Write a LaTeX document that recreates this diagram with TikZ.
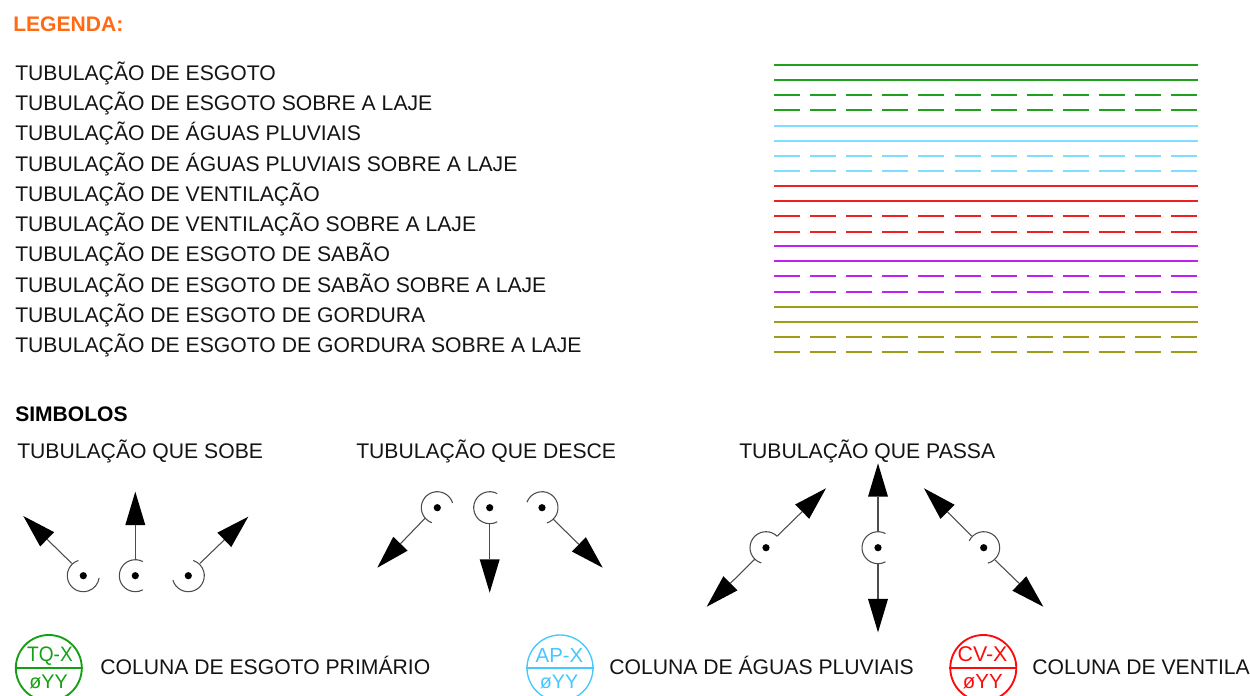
\documentclass[tikz,border=0pt]{standalone}
\usepackage{fontspec}
\setmainfont{Liberation Sans}
\usetikzlibrary{arrows.meta}
\definecolor{cgreen}{HTML}{1FA01F}
\definecolor{ccyan}{HTML}{7FDDFF}
\definecolor{cred}{HTML}{F02020}
\definecolor{cpurple}{HTML}{C020F0}
\definecolor{colive}{HTML}{A09C18}
\definecolor{corange}{HTML}{FF6A13}
\definecolor{capblue}{HTML}{45C8FF}
\definecolor{ctqgreen}{HTML}{14A014}
\definecolor{cvred}{HTML}{FF0A0A}
\tikzset{
  x=.75pt,y=.75pt,
  txt/.style={anchor=base west,inner sep=0pt,font=\fontsize{15.87}{18}\selectfont,text=black!92},
  titlebold/.style={anchor=base west,inner sep=0pt,font=\fontsize{15.8}{18}\selectfont\bfseries},
  solidpipe/.style={line width=1.55pt},
  dashpipe/.style={line width=1.55pt,dash pattern=on 19.5pt off 7.58pt},
  tube/.style={line width=.8pt,draw=black!70,-{Triangle[length=25pt,width=15pt,color=black,fill=black,line width=0pt]}},
  ring/.style={line width=.8pt,draw=black!70},
  pdot/.style={circle,fill=black,inner sep=0pt,minimum size=5.4pt},
  colring/.style={circle,draw,line width=1.4pt,inner sep=0pt,minimum size=49.5pt},
  collab/.style={anchor=base,inner sep=0pt},
}
\newcommand{\pipering}[5]{%
  \node[pdot] (#1) at (#2,#3) {};
  \draw[ring] ([shift={(#4:16)}]#1.center) arc[start angle=#4,end angle=#5,radius=16];
}
\begin{document}
\begin{tikzpicture}
\clip (0,0) rectangle (1250,-696);
\fill[white] (0,0) rectangle (1250,-696);

\node[titlebold,text=corange] (leg) at (13,-31.5) {LEGENDA:};

\foreach \nm/\y/\t in {
  r1/80/{TUBULAÇÃO DE ESGOTO},
  r2/110/{TUBULAÇÃO DE ESGOTO SOBRE A LAJE},
  r3/140.5/{TUBULAÇÃO DE ÁGUAS PLUVIAIS},
  r4/171/{TUBULAÇÃO DE ÁGUAS PLUVIAIS SOBRE A LAJE},
  r5/201/{TUBULAÇÃO DE VENTILAÇÃO},
  r6/231/{TUBULAÇÃO DE VENTILAÇÃO SOBRE A LAJE},
  r7/261.5/{TUBULAÇÃO DE ESGOTO DE SABÃO},
  r8/292/{TUBULAÇÃO DE ESGOTO DE SABÃO SOBRE A LAJE},
  r9/322/{TUBULAÇÃO DE ESGOTO DE GORDURA},
  r10/352/{TUBULAÇÃO DE ESGOTO DE GORDURA SOBRE A LAJE}}
  {\node[txt] (\nm) at (15,-\y) {\t};}

\foreach \c/\ya/\yb/\yc/\yd in {
  cgreen/65/80/95/110,
  ccyan/126/141/156/171,
  cred/186/201/216/232,
  cpurple/246/261/276/292,
  colive/307/322/337/352}{
  \draw[solidpipe,\c] (774,-\ya) -- (1198,-\ya);
  \draw[solidpipe,\c] (774,-\yb) -- (1198,-\yb);
  \draw[dashpipe,\c] (774,-\yc) -- (1198,-\yc);
  \draw[dashpipe,\c] (774,-\yd) -- (1198,-\yd);
}

\node[titlebold,text=black] (simb) at (15,-421) {SIMBOLOS};
\node[txt] (sobe) at (17,-458) {TUBULAÇÃO QUE SOBE};
\node[txt] (desce) at (356,-458) {TUBULAÇÃO QUE DESCE};
\node[txt] (passa) at (739,-458) {TUBULAÇÃO QUE PASSA};

% sobe
\pipering{s1}{83.3}{-575.7}{108}{352}
\pipering{s2}{135.3}{-575.7}{62}{298}
\pipering{s3}{188.3}{-575.7}{-164}{72}
\coordinate (s1a) at (71.7,-563.3); \coordinate (s1b) at (23.3,-516);
\coordinate (s2a) at (135.3,-560); \coordinate (s2b) at (135.3,-491.7);
\coordinate (s3a) at (200,-563.3); \coordinate (s3b) at (248.3,-516.7);
\draw[tube] (s1a) -- (s1b);
\draw[tube] (s2a) -- (s2b);
\draw[tube] (s3a) -- (s3b);

% desce
\pipering{d1}{437.3}{-507.7}{17}{250}
\pipering{d2}{489.7}{-507.7}{62}{298}
\pipering{d3}{542}{-507.7}{-72}{160}
\coordinate (d1a) at (425,-518.3); \coordinate (d1b) at (377.3,-567.7);
\coordinate (d2a) at (489.7,-523.7); \coordinate (d2b) at (489.7,-592.7);
\coordinate (d3a) at (553.3,-519.3); \coordinate (d3b) at (602.7,-567.7);
\draw[tube] (d1a) -- (d1b);
\draw[tube] (d2a) -- (d2b);
\draw[tube] (d3a) -- (d3b);

% passa
\pipering{p1}{766}{-547.7}{45}{253}
\pipering{p2}{878}{-547.7}{62}{298}
\pipering{p3}{983.7}{-547.7}{-75}{155}
\coordinate (p1a) at (777.3,-536); \coordinate (p1b) at (826,-488.3);
\coordinate (p1c) at (755,-559); \coordinate (p1d) at (706.7,-606.7);
\coordinate (p2a) at (878,-532); \coordinate (p2b) at (878,-463.3);
\coordinate (p2c) at (878,-563.5); \coordinate (p2d) at (878,-632.3);
\coordinate (p3a) at (971.7,-536); \coordinate (p3b) at (924,-488.3);
\coordinate (p3c) at (995,-560); \coordinate (p3d) at (1043.3,-606.7);
\draw[tube] (p1a) -- (p1b);
\draw[tube] (p1c) -- (p1d);
\draw[tube] (p2a) -- (p2b);
\draw[tube] (p2c) -- (p2d);
\draw[tube] (p3a) -- (p3b);
\draw[tube] (p3c) -- (p3d);

% colunas
\node[colring,draw=ctqgreen] (tq) at (48.8,-668) {};
\draw[line width=1.4pt,ctqgreen] (tq.west) -- (tq.east);
\node[collab,text=ctqgreen,font=\fontsize{14.3}{16}\selectfont,yscale=1.1] (tqa) at (50,-661.5) {TQ-X};
\node[collab,text=ctqgreen,font=\fontsize{14.8}{16}\selectfont] (tqb) at (48.5,-688.5) {øYY};
\node[txt] (tqt) at (100,-674) {COLUNA DE ESGOTO PRIMÁRIO};

\node[colring,draw=capblue,line width=1pt] (ap) at (560,-668) {};
\draw[line width=1pt,capblue] (ap.west) -- (ap.east);
\node[collab,text=capblue,font=\fontsize{15.3}{16}\selectfont] (apa) at (559.5,-662) {AP-X};
\node[collab,text=capblue,font=\fontsize{14.8}{16}\selectfont] (apb) at (559,-688.5) {øYY};
\node[txt] (apt) at (609,-674) {COLUNA DE ÁGUAS PLUVIAIS};

\node[colring,draw=cvred] (cv) at (983.3,-668) {};
\draw[line width=1.4pt,cvred] (cv.west) -- (cv.east);
\node[collab,text=cvred,font=\fontsize{16}{16}\selectfont] (cva) at (982.5,-661.7) {CV-X};
\node[collab,text=cvred,font=\fontsize{15.3}{16}\selectfont] (cvb) at (982.8,-688.5) {øYY};
\node[txt] (cvt) at (1032,-674) {COLUNA DE VENTILAÇÃO};
\end{tikzpicture}
\end{document}
